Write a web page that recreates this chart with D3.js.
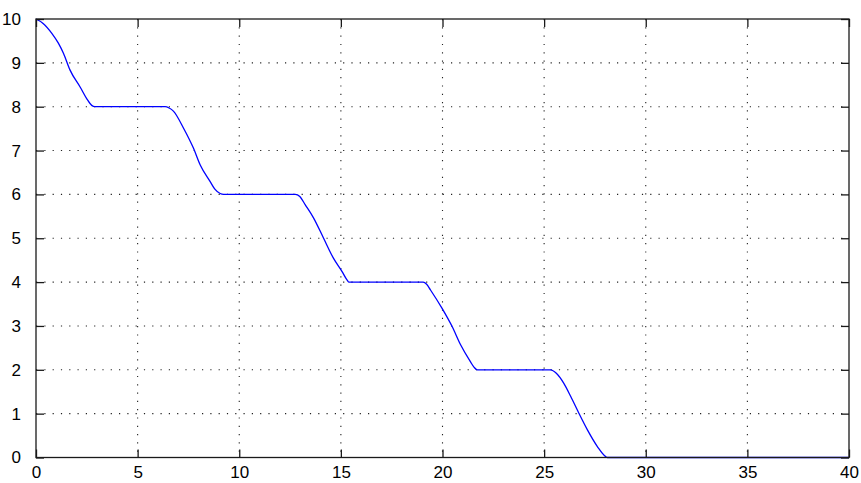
<!DOCTYPE html>
<html>
<head>
<meta charset="utf-8">
<script src="https://cdn.jsdelivr.net/npm/d3@7"></script>
<style>
  body { margin: 0; background: #fff; }
  svg { display: block; }
  .tick text { font-family: "Liberation Sans", Arial, sans-serif; font-size: 17px; fill: #000; }
</style>
</head>
<body>
<div id="chart"></div>
<script>
// curve samples
const xValues = [0, 0.35, 0.77, 1.1, 1.35, 1.67, 2.17, 2.5, 2.74, 2.9,
  6.35, 6.55, 6.76, 7.26, 7.75, 8.08, 8.57, 8.8, 9.06, 9.23,
  12.76, 12.98, 13.25, 13.66, 14.15, 14.64, 15.06, 15.3, 15.39,
  19.05, 19.22, 19.41, 19.98, 20.48, 20.89, 21.38, 21.55, 21.71,
  25.32, 25.6, 25.97, 26.31, 26.71, 27.13, 27.62, 28.03, 28.11, 40];
const yValues = [10, 9.9, 9.68, 9.45, 9.22, 8.84, 8.45, 8.18, 8.03, 8,
  8, 7.97, 7.9, 7.51, 7.05, 6.67, 6.29, 6.12, 6.02, 6,
  6, 5.95, 5.76, 5.46, 5.0, 4.54, 4.24, 4.05, 4,
  4, 3.95, 3.82, 3.4, 2.98, 2.57, 2.18, 2.06, 2,
  2, 1.92, 1.69, 1.39, 1.01, 0.63, 0.25, 0.02, 0, 0];
const xTicks = [0, 5, 10, 15, 20, 25, 30, 35, 40];
const yTicks = [0, 1, 2, 3, 4, 5, 6, 7, 8, 9, 10];

let margin = {top: 19, right: 12, bottom: 25.5, left: 36},
    width = 861 - margin.left - margin.right,
    height = 483 - margin.top - margin.bottom;

let svg = d3.select("#chart")
    .append("svg")
    .attr("width", 861)
    .attr("height", 483);

let g = svg.append("g").attr("transform", "translate(" + margin.left + "," + margin.top + ")");

let x = d3.scaleLinear().domain([0, 40]).range([0, width]);
let y = d3.scaleLinear().domain([0, 10]).range([height, 0]);

// dotted grid
g.append("g")
    .selectAll("line")
    .data(xTicks.slice(1, -1))
    .enter().append("line")
    .attr("x1", d => x(d)).attr("x2", d => x(d))
    .attr("y1", 0).attr("y2", height)
    .attr("stroke", "#222")
    .attr("stroke-width", 1.1)
    .attr("stroke-dasharray", "1.2,7.1");
g.append("g")
    .selectAll("line")
    .data(yTicks.slice(1, -1))
    .enter().append("line")
    .attr("x1", 0).attr("x2", width)
    .attr("y1", d => y(d)).attr("y2", d => y(d))
    .attr("stroke", "#222")
    .attr("stroke-width", 1.1)
    .attr("stroke-dasharray", "1.2,7.1");

// the curve
let line = d3.line()
    .x((d, i) => x(xValues[i]))
    .y(d => y(d))
    .curve(d3.curveMonotoneX);

g.append("path")
    .datum(yValues)
    .attr("d", line)
    .attr("fill", "none")
    .attr("stroke", "#0000ff")
    .attr("stroke-width", 1.3);

// axes, ticks pointing inward on all four sides
let tl = 8;
let styleAxis = function(sel) {
    sel.select(".domain").remove();
    sel.selectAll(".tick line").attr("stroke", "#1a1a1a").attr("stroke-width", 1.3);
};

g.append("g")
    .attr("transform", "translate(0," + height + ")")
    .call(d3.axisBottom(x).tickValues(xTicks).tickSizeInner(-tl).tickSizeOuter(0).tickPadding(8).tickFormat(d3.format("d")))
    .call(styleAxis);
g.append("g")
    .call(d3.axisLeft(y).tickValues(yTicks).tickSizeInner(-tl).tickSizeOuter(0).tickPadding(15).tickFormat(d3.format("d")))
    .call(styleAxis);
g.append("g")
    .call(d3.axisTop(x).tickValues(xTicks).tickSizeInner(-tl).tickSizeOuter(0).tickFormat(""))
    .call(styleAxis);
g.append("g")
    .attr("transform", "translate(" + width + ",0)")
    .call(d3.axisRight(y).tickValues(yTicks).tickSizeInner(-tl).tickSizeOuter(0).tickFormat(""))
    .call(styleAxis);

// box
g.append("rect")
    .attr("width", width)
    .attr("height", height)
    .attr("fill", "none")
    .attr("stroke", "#1a1a1a")
    .attr("stroke-width", 1.3);
</script>
</body>
</html>
